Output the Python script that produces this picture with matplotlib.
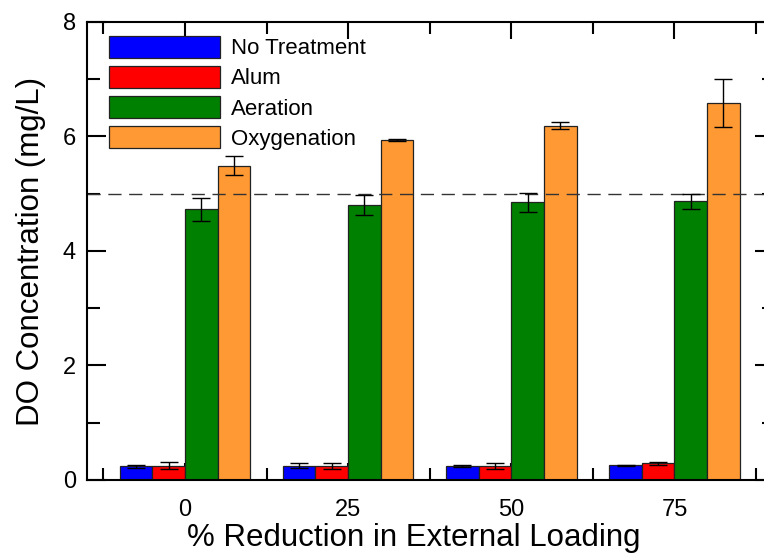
import matplotlib
matplotlib.use("Agg")
import matplotlib.pyplot as plt
import numpy as np
from matplotlib.ticker import FixedLocator

plt.rcParams['font.family'] = ['Liberation Sans', 'DejaVu Sans']

categories = ["0", "25", "50", "75"]
series_names = ["No Treatment", "Alum", "Aeration", "Oxygenation"]
no_treatment = [0.24, 0.25, 0.24, 0.26]
no_treatment_err = [0.03, 0.04, 0.02, 0.01]
alum = [0.25, 0.25, 0.25, 0.29]
alum_err = [0.06, 0.05, 0.05, 0.02]
aeration = [4.73, 4.80, 4.85, 4.87]
aeration_err = [0.20, 0.18, 0.17, 0.13]
oxygenation = [5.49, 5.94, 6.19, 6.59]
oxygenation_err = [0.17, 0.02, 0.06, 0.42]
threshold = 5.0

colors = ["#0000FF", "#FF0000", "#008000", "#FF9933"]
values = [no_treatment, alum, aeration, oxygenation]
errors = [no_treatment_err, alum_err, aeration_err, oxygenation_err]

fig = plt.figure(figsize=(7.64, 5.54), dpi=100)
ax = fig.add_axes([0.1139, 0.1336, 0.8992, 0.8267])

x = np.arange(len(categories))
width = 0.2
offsets = [-1.5, -0.5, 0.5, 1.5]
for vals, errs, col, name, off in zip(values, errors, colors, series_names, offsets):
    ax.bar(x + off * width, vals, width, color=col, edgecolor="#222222",
           linewidth=0.9, label=name, zorder=2)
    ax.errorbar(x + off * width, vals, yerr=errs, fmt='none', ecolor='black',
                elinewidth=1.0, capsize=6.5, capthick=1.0, zorder=3)

ax.axhline(threshold, color='#333333', linewidth=1.0, dashes=(9.5, 5.5), zorder=2.2)

ax.set_xlim(-0.6, 3.61)
ax.set_ylim(0, 8)
ax.set_xticks(x)
ax.set_xticklabels(categories)
ax.xaxis.set_minor_locator(FixedLocator(np.arange(-0.5, 4.0, 1.0)))
ax.set_yticks([0, 2, 4, 6, 8])
ax.yaxis.set_minor_locator(FixedLocator([1, 3, 5, 7]))
ax.set_axisbelow(True)

ax.tick_params(axis='x', which='major', direction='in', length=12, width=1.5,
               top=True, bottom=True, labelsize=17, pad=14)
ax.tick_params(axis='x', which='minor', direction='in', length=8.5, width=1.5,
               top=True, bottom=True)
ax.tick_params(axis='y', which='major', direction='in', length=13.5, width=1.5,
               left=True, right=True, labelsize=17, pad=8)
ax.tick_params(axis='y', which='minor', direction='in', length=9, width=1.5,
               left=True, right=True)
for sp in ax.spines.values():
    sp.set_linewidth(1.5)

ax.set_xlabel("% Reduction in External Loading", fontsize=22.5, labelpad=2)
ax.xaxis.set_label_coords(0.475, -0.095, transform=ax.transAxes)
ax.xaxis.label.set_va('top')
ax.set_ylabel("DO Concentration (mg/L)", fontsize=22.5, labelpad=12)

leg = ax.legend(loc='upper left', bbox_to_anchor=(0.032, 0.97), frameon=False,
                fontsize=16, handlelength=5.0, handleheight=1.14,
                handletextpad=0.5, labelspacing=0.3, borderpad=0,
                borderaxespad=0)

fig.savefig("out.png", dpi=100)
